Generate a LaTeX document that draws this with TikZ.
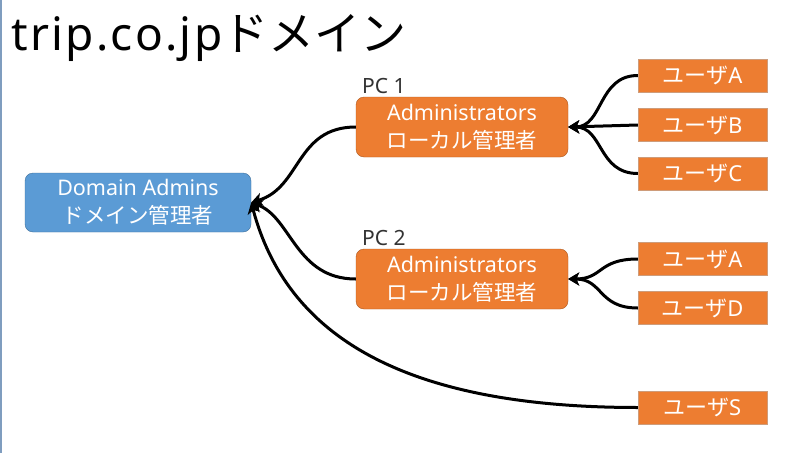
\documentclass[tikz,border=0pt]{standalone}
\usepackage{fontspec}
\setmainfont{Noto Sans}
\newfontfamily\jp{Noto Sans CJK JP}
\newfontfamily\titlelatin[LetterSpace=5]{Noto Sans}
\usetikzlibrary{arrows.meta}
\definecolor{domblue}{HTML}{5B9BD5}
\definecolor{domedge}{HTML}{41719C}
\definecolor{pcorange}{HTML}{ED7D31}
\definecolor{pcedge}{HTML}{AE5A21}
\definecolor{slideedge}{HTML}{7F9DBF}
\tikzset{
  domainbox/.style={draw=domedge, fill=domblue, rounded corners=8pt, text=white, align=center,
    minimum width=226pt, minimum height=59pt, inner sep=0pt, font=\fontsize{21.5}{28}\selectfont},
  adminbox/.style={draw=pcedge, fill=pcorange, rounded corners=8pt, text=white, align=center,
    minimum width=212pt, minimum height=60pt, inner sep=0pt, font=\fontsize{21.5}{28}\selectfont},
  userbox/.style={draw=pcedge!60, fill=pcorange, text=white,
    minimum width=129pt, minimum height=33pt, inner sep=0pt, font=\fontsize{22}{25}\selectfont},
  pclabel/.style={text=black!80, inner sep=0pt, font=\fontsize{21}{25}\selectfont},
  link/.style={line width=3pt, -{Stealth[length=11pt,width=13pt,inset=3pt]}},
}
\begin{document}
\begin{tikzpicture}[x=1pt, y=-1pt]
  \useasboundingbox (0,0) rectangle (788,453);
  % 1. 背景と枠
  \fill[white] (0,0) rectangle (788,453);
  \draw[slideedge, line width=1.5pt] (0.75,0) -- (0.75,453);

  % 2. タイトル
  \node[anchor=base west, inner sep=0pt, font=\fontsize{46}{50}\selectfont] (title) at (11,50) {{\titlelatin trip.co.jp}{\jp ドメイン}};

  % 3. グループ
  \node[domainbox] (dom) at (138,202.5) {Domain Admins\\{\jp ドメイン管理者}};
  \node[adminbox] (pc1) at (462,127) {Administrators\\{\jp ローカル管理者}};
  \node[adminbox] (pc2) at (462,279) {Administrators\\{\jp ローカル管理者}};
  \node[pclabel, anchor=base west] (pc1lbl) at (362,93) {PC 1};
  \node[pclabel, anchor=base west] (pc2lbl) at (362,245) {PC 2};

  % 4. ユーザ
  \node[userbox] (ua1) at (702.5,75.5) {{\jp ユーザ}A};
  \node[userbox] (ub) at (702.5,125) {{\jp ユーザ}B};
  \node[userbox] (uc) at (702.5,173.5) {{\jp ユーザ}C};
  \node[userbox] (ua2) at (702.5,259) {{\jp ユーザ}A};
  \node[userbox] (ud) at (702.5,308) {{\jp ユーザ}D};
  \node[userbox] (us) at (702.5,407.5) {{\jp ユーザ}S};

  % 5. 所属
  \draw[link] (ua1.west) .. controls +(-40,0) and +(35,0) .. (pc1.east);
  \draw[link] (ub.west) -- (pc1.east);
  \draw[link] (uc.west) .. controls +(-40,0) and +(35,0) .. (pc1.east);
  \draw[link] (ua2.west) .. controls +(-40,0) and +(35,0) .. (pc2.east);
  \draw[link] (ud.west) .. controls +(-40,0) and +(35,0) .. (pc2.east);
  \draw[link] (pc1.west) .. controls +(-60,0) and +(50,-15) .. (dom.east);
  \draw[link] (pc2.west) .. controls +(-60,0) and +(40,15) .. (dom.east);
  \draw[link] (us.west) .. controls +(-240,0) and +(35,130) .. (dom.east);
\end{tikzpicture}
\end{document}
